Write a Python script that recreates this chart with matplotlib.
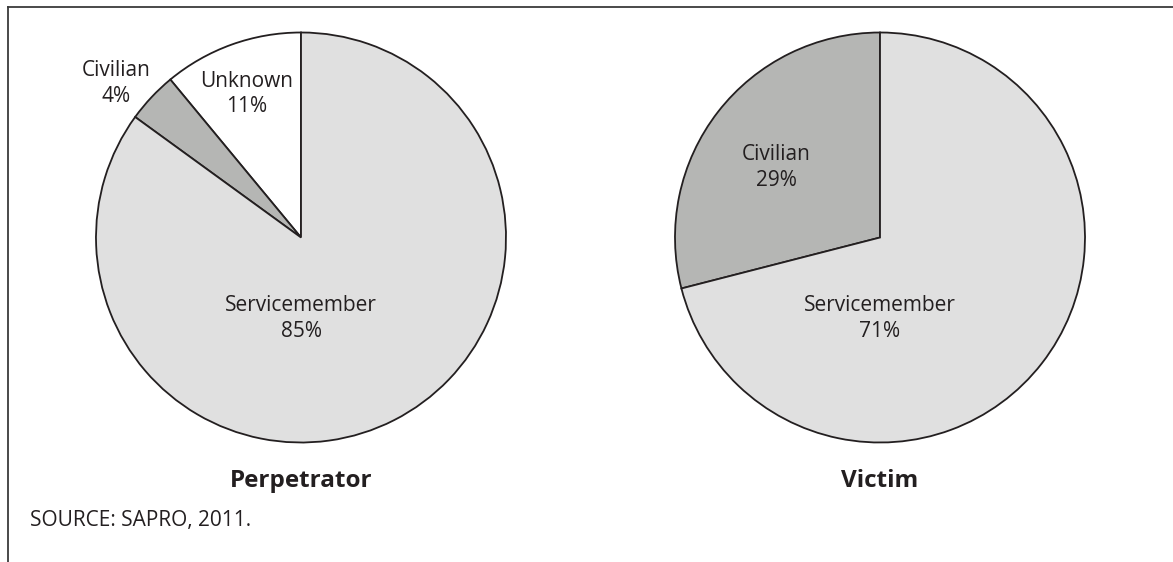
import matplotlib.pyplot as plt
from matplotlib.lines import Line2D

plt.rcParams['font.family'] = ['Open Sans', 'DejaVu Sans']

# perpetrator and victim breakdowns, counter-clockwise from 12 o'clock
perp_labels = ['Unknown', 'Civilian', 'Servicemember']
perp_values = [11, 4, 85]
victim_labels = ['Civilian', 'Servicemember']
victim_values = [29, 71]

colors = {'Unknown': '#ffffff', 'Civilian': '#b5b6b4', 'Servicemember': '#e0e0e0'}
edge = '#231f20'

W, H = 1173, 562
fig = plt.figure(figsize=(W / 100, H / 100), dpi=100)

# label spots in pie units (radius = 1)
perp_pos = {'Unknown': (-0.265, 0.70), 'Civilian': (-0.90, 0.75), 'Servicemember': (0, -0.395)}
victim_pos = {'Civilian': (-0.507, 0.34), 'Servicemember': (0, -0.395)}


def draw_pie(cx, labels, values, pos, title):
    r = 205
    cy = 237.5
    ax = fig.add_axes([(cx - r) / W, (H - cy - r) / H, 2 * r / W, 2 * r / H])
    ax.pie(values, colors=[colors[l] for l in labels], startangle=90,
           counterclock=True, radius=1,
           wedgeprops=dict(edgecolor=edge, linewidth=1.3))
    ax.set_xlim(-1, 1)
    ax.set_ylim(-1, 1)
    ax.set_aspect('equal')
    ax.axis('off')
    for l, v in zip(labels, values):
        x, y = pos[l]
        ax.text(x, y, f'{l}\n{v}%', ha='center', va='center', fontsize=15,
                color='#231f20', linespacing=1.3, clip_on=False)
    fig.text(cx / W, 1 - 487 / H, title, ha='center', va='baseline',
             fontsize=17.5, fontweight='bold', color='#231f20')


draw_pie(301, perp_labels, perp_values, perp_pos, 'Perpetrator')
draw_pie(880, victim_labels, victim_values, victim_pos, 'Victim')

fig.text(30 / W, 1 - 526 / H, 'SOURCE: SAPRO, 2011.', ha='left', va='baseline',
         fontsize=15, color='#231f20')

# frame: top rule and left rule
fig.add_artist(Line2D([7.5 / W, 1], [1 - 6.5 / H, 1 - 6.5 / H], color='#3a3a3a', lw=1.3))
fig.add_artist(Line2D([7.5 / W, 7.5 / W], [0, 1 - 6.5 / H], color='#3a3a3a', lw=1.3))

fig.savefig('out.png', dpi=100)
